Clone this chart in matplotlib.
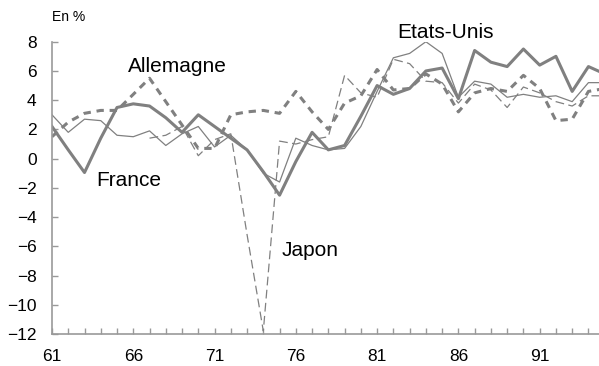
import numpy as np
import matplotlib
matplotlib.use("Agg")
import matplotlib.pyplot as plt
from matplotlib.ticker import MultipleLocator

plt.rcParams['font.family'] = ['Liberation Sans', 'DejaVu Sans']

years = list(range(61, 96))
france = [2.2, 0.6, -0.95, 1.4, 3.5, 3.75, 3.6, 2.8, 1.8, 3.0,
          2.2, 1.4, 0.6, -0.9, -2.5, -0.2, 1.8, 0.6, 0.9, 2.9,
          5.0, 4.4, 4.8, 6.0, 6.2, 4.1, 7.4, 6.6, 6.3, 7.5,
          6.4, 7.0, 4.6, 6.3, 5.8]
allemagne = [1.5, 2.5, 3.1, 3.3, 3.3, 4.4, 5.5, 3.9, 2.3, 0.7,
             0.7, 3.0, 3.2, 3.3, 3.1, 4.6, 3.2, 2.0, 3.8, 4.3,
             6.1, 4.7, 4.8, 5.8, 5.1, 3.2, 4.5, 4.8, 4.6, 5.7,
             4.8, 2.6, 2.7, 4.6, 4.8]
etats_unis = [3.0, 1.8, 2.7, 2.6, 1.6, 1.5, 1.9, 0.9, 1.7, 2.2,
              0.8, 1.6, 0.6, -1.0, -1.6, 1.4, 0.9, 0.6, 0.7, 2.2,
              4.6, 6.9, 7.2, 8.0, 7.2, 4.2, 5.3, 5.1, 4.2, 4.4,
              4.2, 4.3, 3.9, 5.2, 5.2]
japon = [None, None, None, None, None, None, 1.4, 1.6, 2.2, 0.2,
         1.3, 1.7, -5.2, -11.8, 1.2, 1.0, 1.3, 1.5, 5.7, 4.5,
         4.2, 6.8, 6.5, 5.3, 5.2, 3.8, 5.1, 4.7, 3.5, 4.9,
         4.5, 3.9, 3.6, 4.3, 4.3]

tick_years = [61, 66, 71, 76, 81, 86, 91]

line_col = '#808080'
axis_col = '#999999'

fig = plt.figure(figsize=(5.99, 3.66), dpi=100)
ax = fig.add_axes([0.0868, 0.0874, 1 - 0.0868, 0.886 - 0.0874])

jp = np.array([np.nan if v is None else v for v in japon])

ax.plot(years, etats_unis, color=line_col, lw=0.9)
ax.plot(years, jp, color=line_col, lw=0.9, dashes=(7, 3.5))
ax.plot(years, allemagne, color=line_col, lw=2.2, dashes=(2.4, 1.9))
ax.plot(years, france, color=line_col, lw=2.2)

ax.set_xlim(61, 94.65)
ax.set_ylim(-12, 8)
ax.set_yticks(range(-12, 9, 2))
ax.set_xticks(tick_years)
ax.set_xticklabels([str(y) for y in tick_years])
ax.xaxis.set_minor_locator(MultipleLocator(1))

for s in ['top', 'right']:
    ax.spines[s].set_visible(False)
for s in ['left', 'bottom']:
    ax.spines[s].set_color(axis_col)
    ax.spines[s].set_linewidth(1.2)

ax.tick_params(axis='both', which='both', direction='in', color=axis_col,
               width=1, labelsize=12.5, labelcolor='black')
ax.tick_params(axis='y', length=4, pad=11)
ax.tick_params(axis='x', which='both', length=4, pad=11)

lab = dict(fontsize=15, color='black', ha='center', va='baseline')
ax.text(68.7, 5.93, 'Allemagne', **lab)
ax.text(65.7, -1.88, 'France', **lab)
ax.text(85.2, 8.26, 'Etats-Unis', **lab, clip_on=False)
ax.text(76.9, -6.67, 'Japon', **lab)

fig.text(52 / 599, 1 - 21 / 366, 'En %', fontsize=10, ha='left', va='baseline')

fig.savefig('out.png', dpi=100)
